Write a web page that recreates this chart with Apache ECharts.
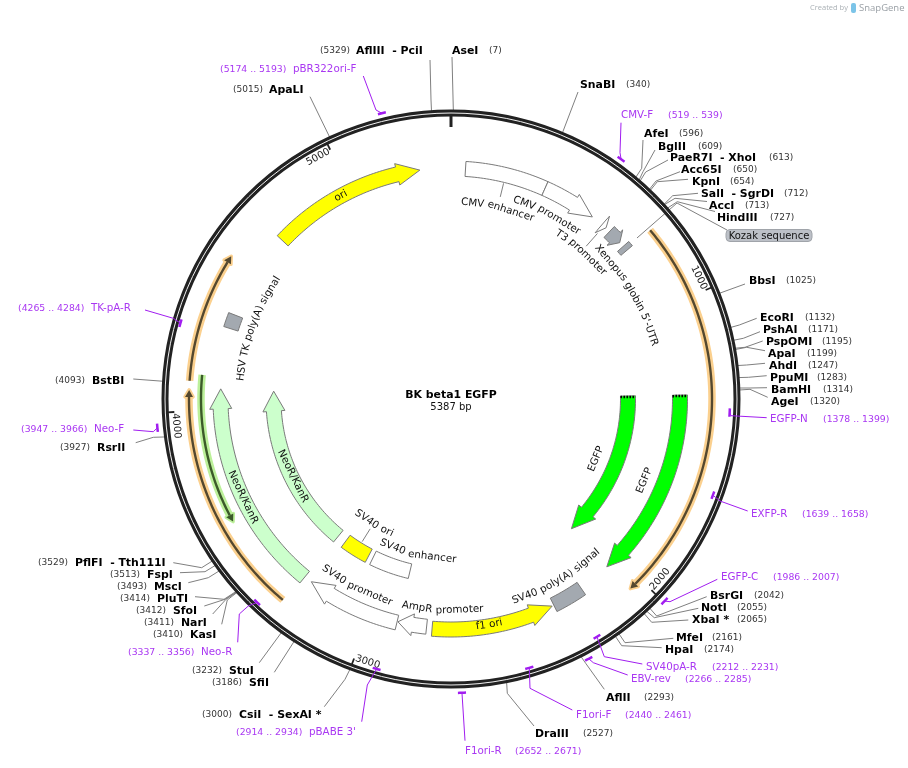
<!DOCTYPE html>
<html>
<head>
<meta charset="utf-8">
<title>BK beta1 EGFP</title>
<script src="https://cdn.jsdelivr.net/npm/echarts@6/dist/echarts.min.js"></script>
<style>
  html, body { margin: 0; background: #fff; }
  #main { width: 908px; height: 768px; }
</style>
</head>
<body>
<div id="main"></div>
<script>
// plasmid
const plasmidName = 'BK beta1 EGFP';
const plasmidLength = 5387;
const tickValues = [0, 1000, 2000, 3000, 4000, 5000];

// features, in bp
const featureNames = ['CMV enhancer', 'CMV promoter', 'T3 promoter', "Xenopus globin 5'-UTR", 'Kozak sequence', 'EGFP', 'EGFP', 'SV40 poly(A) signal', 'f1 ori', 'AmpR promoter', 'SV40 promoter', 'NeoR/KanR', 'NeoR/KanR', 'SV40 ori', 'SV40 enhancer', 'HSV TK poly(A) signal', 'ori'];
const featureStarts = [54, 360, 612, 650, 725, 1332, 1332, 2177, 2764, 2785, 2897, 3283, 3283, 3108, 2894, 4305, 4687];
const featureEnds = [360, 566, 631, 706, 745, 2052, 2052, 2297, 2304, 2894, 3253, 4078, 4078, 3240, 3085, 4358, 5271];

// thin open reading frames
const orfStarts = [744, 3291, 4100, 4123];
const orfEnds = [2044, 4070, 4534, 3601];

// enzyme sites
const siteNames = ['AseI', 'SnaBI', 'AfeI', 'BglII', 'PaeR7I  - XhoI', 'Acc65I', 'KpnI', 'SalI  - SgrDI', 'AccI', 'HindIII', 'BbsI', 'EcoRI', 'PshAI', 'PspOMI', 'ApaI', 'AhdI', 'PpuMI', 'BamHI', 'AgeI', 'BsrGI', 'NotI', 'XbaI *', 'MfeI', 'HpaI', 'AflII', 'DraIII', 'CsiI  - SexAI *', 'SfiI', 'StuI', 'KasI', 'NarI', 'SfoI', 'PluTI', 'MscI', 'FspI', 'PflFI  - Tth111I', 'RsrII', 'BstBI', 'ApaLI', 'AflIII  - PciI'];
const sitePositions = [7, 340, 596, 609, 613, 650, 654, 712, 713, 727, 1025, 1132, 1171, 1195, 1199, 1247, 1283, 1314, 1320, 2042, 2055, 2065, 2161, 2174, 2293, 2527, 3000, 3186, 3232, 3410, 3411, 3412, 3414, 3493, 3513, 3529, 3927, 4093, 5015, 5329];

// primers
const primerNames = ['pBR322ori-F', 'CMV-F', 'EGFP-N', 'EXFP-R', 'EGFP-C', 'SV40pA-R', 'EBV-rev', 'F1ori-F', 'F1ori-R', "pBABE 3'", 'Neo-R', 'Neo-F', 'TK-pA-R'];
const primerStarts = [5174, 519, 1378, 1639, 1986, 2212, 2266, 2440, 2652, 2914, 3337, 3947, 4265];
const primerEnds = [5193, 539, 1399, 1658, 2007, 2231, 2285, 2461, 2671, 2934, 3356, 3966, 4284];

// ---- layout and styles, same order as the lists above ----
const WHITE = '#ffffff', GRAY = '#a3a9b0', YELLOW = '#ffff00', GREEN = '#00ff00', PALE = '#ccffcc';
const featureRing = [230.5, 230.5, 231, 230, 230, 229, 177, 230, 230.5, 229, 230, 230.5, 177.5, 177, 177, 231, 231];
const featureFill = [WHITE, WHITE, WHITE, GRAY, GRAY, GREEN, GREEN, GRAY, YELLOW, WHITE, WHITE, PALE, PALE, YELLOW, WHITE, GRAY, YELLOW];
const featureHead = [0, 23, 5, 7, 0, 23, 23, 0, 23, 15, 23, 20, 20, 0, 0, 0, 23];
const orfRing = [261, 262, 262, 250];
const orfHalo = ['#fbd08e', '#fbd08e', '#fbd08e', '#bcf09a'];
const orfLine = ['#54482f', '#54482f', '#54482f', '#3c5a2a'];

// curved feature captions: text, middle bp, radius
const captionText = ['ori', 'CMV enhancer', 'CMV promoter', 'T3 promoter', "Xenopus globin 5'-UTR", 'f1 ori', 'SV40 poly(A) signal', 'AmpR promoter', 'SV40 promoter', 'SV40 ori', 'SV40 enhancer', 'NeoR/KanR', 'NeoR/KanR', 'HSV TK poly(A) signal', 'EGFP', 'EGFP'];
const captionBp = [4961, 207, 412, 622, 890, 2550, 2236, 2728, 3093, 3168, 2876, 3662, 3651, 4340, 1689, 1683];
const captionR = [231, 197, 209, 197, 210, 229, 211, 211, 211, 147, 159, 230, 176, 211, 210, 157];
// short caption connectors: bp, from radius, to radius
const connectors = [[205, 222, 208], [621, 221, 204], [3171, 168, 153]];

// name x, number x, y, then leader points from the label towards the ring
const siteLayout = [
  [452, 489, 50, 452, 57], [580, 626, 84, 578, 92], [644, 679, 133, 643, 140, 641.7, 168.3],
  [658, 698, 146, 655, 150, 643, 171.7], [670, 769, 157, 668, 160, 645.7, 172], [681, 733, 169, 680, 171.7, 656, 181],
  [692, 730, 181, 688, 179.3, 657.3, 181.7], [701, 784, 193, 698, 193.3, 672.7, 195.7], [709, 745, 205, 707, 201.5, 675, 198.3],
  [717, 770, 217, 715, 211.5, 677.3, 201.7], [749, 786, 280, 745, 284], [760, 805, 317, 756.7, 318.3, 739.3, 325],
  [763, 808, 329, 760, 331.7, 743.3, 338.3], [766, 822, 341, 762.7, 341, 745, 347.3], [768, 807, 353, 765, 350.7, 746.7, 347.3],
  [769, 808, 365, 765, 363.3, 746.7, 365], [770, 817, 377, 766.7, 375.7, 748.3, 377.3], [771, 823, 389, 767, 387.7, 750, 388],
  [771, 810, 401, 767.7, 397.3, 750, 389.3], [710, 754, 595, 706.7, 596.7, 656.7, 616], [701, 737, 607, 698.3, 608.3, 654.3, 617.7],
  [692, 737, 619, 688.3, 620, 651.7, 622.3], [676, 712, 637, 673.3, 638.3, 625, 642.7], [665, 704, 649, 661.7, 647.7, 621.7, 645.7],
  [606, 644, 697, 604.3, 689.3, 585.7, 663.3], [535, 583, 733, 534, 726, 507.3, 693.3], [239, 202, 714, 324.3, 706.7, 345, 679.3],
  [249, 212, 682, 274.3, 672.3], [229, 192, 670, 259.3, 662.7], [190, 153, 634, 221.7, 624.3, 227.3, 600],
  [181, 144, 622, 212.7, 614, 226, 599.3], [173, 136, 610, 204.3, 606, 225, 599.3], [157, 120, 598, 195, 596.7, 224, 599.3],
  [154, 117, 586, 188.3, 582.7, 208.3, 577.7], [147, 110, 574, 180, 572.7, 205, 571.7], [75, 38, 562, 173.3, 562.7, 201.7, 567.7],
  [97, 60, 447, 135.7, 442.7, 153.3, 437.3], [92, 55, 380, 133.3, 379], [269, 233, 89, 310, 96.7], [356, 320, 50, 430, 60, 431, 100]
];
const primerRing = [294, 294, 279, 279, 294, 279, 294, 280, 294, 280, 281, 295, 281];
const primerLayout = [
  [293, 220, 69, 363.3, 76, 376, 110], [621, 668, 115, 621, 122.7, 620, 152.7], [770, 823, 419, 766.7, 417.7, 731, 415.7],
  [751, 802, 514, 747.7, 511, 720, 501], [721, 773, 577, 717.3, 579.3, 670, 601.7], [646, 712, 667, 642.3, 664, 604.3, 656.7],
  [631, 685, 679, 627.7, 675, 593.3, 662.7], [576, 625, 715, 572.3, 710, 530, 688.3], [465, 515, 751, 465, 740.7],
  [309, 236, 732, 361.7, 721.7, 367.3, 685], [201, 128, 652, 237.7, 642.3, 239.3, 614, 248.3, 606], [94, 21, 429, 133.3, 430, 153.3, 431.7],
  [91, 18, 308, 145, 310, 173.3, 318.3]
];

const FONT = '"DejaVu Sans"';
const PURPLE = '#a11df0';
const TEXT_DROP = 0.8;
const measure = document.createElement('canvas').getContext('2d');
function textWidth(s, size) {
  measure.font = size + 'px ' + FONT;
  return measure.measureText(s).width;
}
function label(x, y, text, size, fill, extra) {
  return {
    type: 'text', x: x, y: y, rotation: (extra && extra.rot) || 0,
    style: Object.assign({
      text: text, x: 0, y: 0, fontFamily: FONT, fontSize: size, fill: fill,
      align: 'left', verticalAlign: 'middle'
    }, extra && extra.style)
  };
}
function line(points, stroke, width, dash) {
  return {
    type: 'polyline', shape: { points: points },
    style: { stroke: stroke, lineWidth: width, fill: null, lineDash: dash || null, lineJoin: 'round' }
  };
}
// points along an arc at radius r
function arc(api, r, from, to, n) {
  const pts = [];
  const steps = n || Math.max(2, Math.ceil(Math.abs(to - from) / 12));
  for (let k = 0; k <= steps; k++) pts.push(api.coord([r, from + (to - from) * k / steps]));
  return pts;
}
function pxToBp(px, r) {
  return px / r / (2 * Math.PI) * plasmidLength;
}
function deg(bp) {
  return bp / plasmidLength * 360;
}
// true when captions read with their tops towards the centre
function flipped(bp) {
  const d = deg(bp);
  return d > 90 && d < 270;
}
function tangentRotation(bp, flip) {
  const d = deg(bp);
  return -(flip ? d - 180 : d) * Math.PI / 180;
}

function series(data, renderItem, z) {
  return { type: 'custom', coordinateSystem: 'polar', silent: true, z: z, data: data, renderItem: renderItem, animation: false };
}

// site and kozak leaders go under the ring
function renderSiteLeader(params, api) {
  const i = api.value(2);
  const l = siteLayout[i], pts = [];
  for (let k = 3; k < l.length; k += 2) pts.push([l[k], l[k + 1]]);
  pts.push(api.coord([288, sitePositions[i]]));
  return line(pts, '#808080', 1);
}
function renderKozakLeader(params, api) {
  return line([[727, 230], [677, 203], api.coord([246, api.value(1)])], '#808080', 1);
}
function renderSiteText(params, api) {
  const i = api.value(2);
  const l = siteLayout[i];
  return {
    type: 'group', children: [
      label(l[0], l[2] + TEXT_DROP, siteNames[i], 10.9, '#000', { style: { fontWeight: 'bold' } }),
      label(l[1], l[2] + TEXT_DROP, '(' + sitePositions[i] + ')', 9, '#333')
    ]
  };
}
function renderRing(params, api) {
  const c = api.coord([0, 0]), top = api.coord([api.value(0), 0]);
  const r = c[1] - top[1];
  return {
    type: 'group', children: [
      { type: 'circle', shape: { cx: c[0], cy: c[1], r: r }, style: { fill: null, stroke: '#222', lineWidth: 7 } },
      { type: 'circle', shape: { cx: c[0], cy: c[1], r: r }, style: { fill: null, stroke: '#f2f2f2', lineWidth: 1 } }
    ]
  };
}
function renderTick(params, api) {
  const bp = api.value(1);
  const first = bp === 0;
  const kids = [line([api.coord([284, bp]), api.coord([first ? 272 : 277, bp])], '#222', first ? 3 : 1.8)];
  if (!first) {
    const at = bp - pxToBp(14, 276);
    const p = api.coord([276, at]);
    kids.push(label(p[0], p[1], String(bp), 10, '#222', {
      rot: tangentRotation(at, flipped(at)), style: { align: 'center' }
    }));
  }
  return { type: 'group', children: kids };
}
function renderFeature(params, api) {
  const i = api.value(2);
  const r = api.value(0), s = featureStarts[i], e = featureEnds[i];
  const halfBody = 7.5, halfHead = 11;
  const dir = e > s ? 1 : -1;
  const headBp = pxToBp(featureHead[i], r);
  const base = e - dir * headBp;
  let pts = arc(api, r + halfBody, s, base);
  if (featureHead[i]) {
    pts.push(api.coord([r + halfHead, base]), api.coord([r, e]), api.coord([r - halfHead, base]));
  }
  pts = pts.concat(arc(api, r - halfBody, base, s));
  const kids = [{
    type: 'polygon', shape: { points: pts },
    style: { fill: featureFill[i], stroke: '#7a7a7a', lineWidth: 1, lineJoin: 'miter' }
  }];
  if (featureFill[i] === GREEN) {
    // hatched end, these two copies are truncated
    const inner = s + dir * pxToBp(1, r);
    kids.push(line([api.coord([r - halfBody, inner]), api.coord([r + halfBody, inner])], '#000', 2.5, [1.5, 1.5]));
  }
  return { type: 'group', children: kids };
}
function renderOrf(params, api) {
  const i = api.value(2);
  const r = api.value(0), s = orfStarts[i], e = orfEnds[i];
  const dir = e > s ? 1 : -1;
  const base = e - dir * pxToBp(7, r);
  const body = arc(api, r, s, base);
  const head = [api.coord([r + 4, base]), api.coord([r, e]), api.coord([r - 4, base])];
  return {
    type: 'group', children: [
      line(body, orfHalo[i], 7.5),
      { type: 'polygon', shape: { points: head }, style: { fill: orfHalo[i], stroke: orfHalo[i], lineWidth: 3.5, lineJoin: 'round' } },
      line(body, orfLine[i], 2.4),
      { type: 'polygon', shape: { points: head }, style: { fill: orfLine[i], stroke: null } }
    ]
  };
}
// one text per word, each turned to its own place on the circle
function renderCaption(params, api) {
  const i = api.value(2);
  const r = api.value(0), mid = api.value(1);
  const size = 10.3;
  const flip = flipped(mid);
  const text = captionText[i];
  const total = textWidth(text, size);
  const kids = [];
  let seen = '';
  text.split(' ').forEach(function (word) {
    const off = textWidth(seen, size) + textWidth(word, size) / 2 - total / 2;
    const bp = mid + (flip ? -1 : 1) * pxToBp(off, r);
    const p = api.coord([r, bp]);
    kids.push(label(p[0], p[1], word, size, '#111', { rot: tangentRotation(bp, flip), style: { align: 'center' } }));
    seen += word + ' ';
  });
  return { type: 'group', children: kids };
}
function renderConnector(params, api) {
  const c = connectors[api.value(2)];
  return line([api.coord([c[1], c[0]]), api.coord([c[2], c[0]])], '#808080', 1);
}
function renderPrimer(params, api) {
  const i = api.value(2);
  const r = api.value(0);
  const l = primerLayout[i], pts = [];
  for (let k = 3; k < l.length; k += 2) pts.push([l[k], l[k + 1]]);
  pts.push(api.coord([r, (primerStarts[i] + primerEnds[i]) / 2]));
  const pad = pxToBp(0.8, r);
  return {
    type: 'group', children: [
      line(pts, PURPLE, 1),
      line(arc(api, r, primerStarts[i] - pad, primerEnds[i] + pad, 4), PURPLE, 2.5),
      label(l[0], l[2] + TEXT_DROP, primerNames[i], 10.3, '#a937f2'),
      label(l[1], l[2] + TEXT_DROP, '(' + primerStarts[i] + ' .. ' + primerEnds[i] + ')', 9.3, '#a937f2')
    ]
  };
}

const chart = echarts.init(document.getElementById('main'), null, { renderer: 'canvas' });
chart.setOption({
  animation: false,
  backgroundColor: '#ffffff',
  polar: { center: [451, 399], radius: 289 },
  angleAxis: {
    type: 'value', min: 0, max: plasmidLength, startAngle: 90, clockwise: true,
    axisLine: { show: false }, axisTick: { show: false }, axisLabel: { show: false }, splitLine: { show: false }
  },
  radiusAxis: {
    type: 'value', min: 0, max: 289,
    axisLine: { show: false }, axisTick: { show: false }, axisLabel: { show: false }, splitLine: { show: false }
  },
  graphic: [
    { type: 'text', x: 451, y: 395, style: { text: plasmidName, fontFamily: FONT, fontSize: 10.9, fontWeight: 'bold', fill: '#000', align: 'center', verticalAlign: 'middle' } },
    { type: 'text', x: 451, y: 407.5, style: { text: plasmidLength + ' bp', fontFamily: FONT, fontSize: 10, fill: '#111', align: 'center', verticalAlign: 'middle' } },
    { type: 'rect', shape: { x: 726, y: 229.5, width: 86, height: 12, r: 4 }, style: { fill: '#bcc0c7', stroke: '#a0a4aa', lineWidth: 1 } },
    { type: 'text', x: 769, y: 236, style: { text: 'Kozak sequence', fontFamily: FONT, fontSize: 10, fill: '#111', align: 'center', verticalAlign: 'middle' } },
    { type: 'text', x: 810, y: 8, style: { text: 'Created by', fontFamily: '"Open Sans"', fontSize: 7.5, fill: '#aab0b5', verticalAlign: 'middle' } },
    { type: 'rect', shape: { x: 851, y: 3, width: 5, height: 10, r: 2 }, style: { fill: '#7cc4e8' } },
    { type: 'text', x: 859, y: 8, style: { text: 'SnapGene', fontFamily: '"Open Sans"', fontSize: 9.5, fill: '#9aa0a6', verticalAlign: 'middle' } }
  ],
  series: [
    series(sitePositions.map(function (p, i) { return [288, p, i]; }), renderSiteLeader, 1),
    series([[246, featureStarts[4] + 10, 4]], renderKozakLeader, 1),
    series([[286, 0, 0]], renderRing, 2),
    series(tickValues.map(function (t, i) { return [284, t, i]; }), renderTick, 3),
    series(orfStarts.map(function (s, i) { return [orfRing[i], s, i]; }), renderOrf, 3),
    series(featureNames.map(function (n, i) { return [featureRing[i], featureStarts[i], i]; }), renderFeature, 3),
    series(connectors.map(function (c, i) { return [c[1], c[0], i]; }), renderConnector, 3),
    series(captionText.map(function (t, i) { return [captionR[i], captionBp[i], i]; }), renderCaption, 4),
    series(primerNames.map(function (n, i) { return [primerRing[i], primerStarts[i], i]; }), renderPrimer, 4),
    series(siteNames.map(function (n, i) { return [288, sitePositions[i], i]; }), renderSiteText, 4)
  ]
});
</script>
</body>
</html>
